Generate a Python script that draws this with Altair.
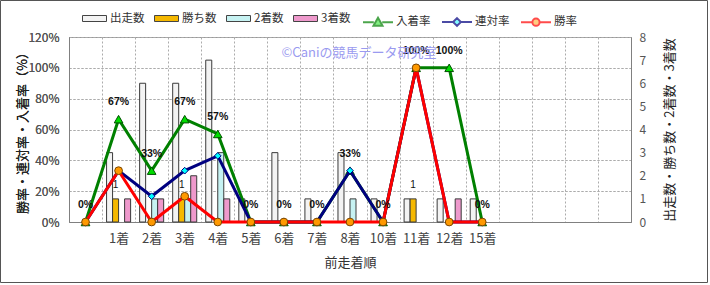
import json
import altair as alt
import pandas as pd

# ---------------- data ----------------
categories = ["", "1着", "2着", "3着", "4着", "5着", "6着", "7着", "8着",
              "10着", "11着", "12着", "15着", "", "", "", ""]
runs    = [0, 3, 6, 6, 7, 1, 3, 1, 3, 1, 1, 1, 1]      # 出走数
wins    = [0, 1, 0, 1, 0, 0, 0, 0, 0, 0, 1, 0, 0]      # 勝ち数
seconds = [0, 0, 1, 1, 3, 0, 0, 0, 1, 0, 0, 0, 0]      # 2着数
thirds  = [0, 1, 1, 2, 1, 0, 0, 0, 0, 0, 0, 1, 0]      # 3着数
place_rate  = [0, 0.667, 0.333, 0.667, 0.571, 0, 0, 0, 0.333, 0, 1.0, 1.0, 0]  # 入着率
rentai_rate = [0, 0.333, 0.167, 0.333, 0.429, 0, 0, 0, 0.333, 0, 1.0, 0, 0]    # 連対率
win_rate    = [0, 0.333, 0, 0.167, 0, 0, 0, 0, 0, 0, 1.0, 0, 0]                # 勝率

bar_series = ["出走数", "勝ち数", "2着数", "3着数"]
bar_colors = ["#F3F3F3", "#F5B800", "#C6F2F2", "#EE99CC"]
line_series = ["入着率", "連対率", "勝率"]
line_colors = ["#008000", "#000080", "#FF0000"]
marker_fills = ["#00DD00", "#00FFFF", "#FF9900"]
marker_strokes = ["#005000", "#000080", "#7A4500"]
marker_shapes = ["triangle-up", "diamond", "circle"]
marker_sizes = [75, 45, 60]

FONT = "Noto Sans CJK JP"

# ---------------- tables ----------------
bar_rows = []
for s, vals in zip(bar_series, [runs, wins, seconds, thirds]):
    for i, v in enumerate(vals):
        if v > 0:
            bar_rows.append({"idx": i, "series": s, "value": v})
bar_df = pd.DataFrame(bar_rows)
win_df = bar_df[bar_df["series"] == "勝ち数"]

rate_data = {
    "入着率": place_rate,
    "連対率": rentai_rate,
    "勝率": win_rate,
}

GRID = "#ababab"

x_enc = alt.X(
    "idx:O",
    scale=alt.Scale(domain=list(range(len(categories))), paddingInner=0, paddingOuter=0),
    axis=alt.Axis(
        labelExpr=json.dumps(categories, ensure_ascii=False) + "[datum.value]",
        labelAngle=0, labelFontSize=13, labelColor="#444", labelFont=FONT,
        labelPadding=10, ticks=False, grid=True, gridDash=[2, 2], gridColor=GRID,
        tickBand="extent", domainColor="#808080",
        title="前走着順", titleFont=FONT, titleFontSize=13, titleFontWeight="normal",
        titleColor="#333", titleY=40, titleBaseline="middle",
    ),
)

xoff_enc = alt.XOffset(
    "series:N",
    scale=alt.Scale(domain=bar_series, paddingOuter=0.75, paddingInner=0),
)

count_scale = alt.Scale(domain=[0, 8], nice=False)
rate_scale = alt.Scale(domain=[0, 1.2], nice=False)

frame = alt.Chart(pd.DataFrame({"a": [0]})).mark_rect(
    fill="transparent", stroke="#555", strokeWidth=1, clip=False
).encode(
    x=alt.value(-68.5), x2=alt.value(638.5), y=alt.value(-36.5), y2=alt.value(245.5)
)

bars = alt.Chart(bar_df).mark_bar(stroke="#3a3a3a", strokeWidth=1).encode(
    x=x_enc,
    xOffset=xoff_enc,
    y=alt.Y("value:Q", scale=count_scale,
            axis=alt.Axis(orient="right", values=list(range(9)), grid=False, ticks=False,
                          labelPadding=8, labelFontSize=12, labelColor="#555", labelFont=FONT,
                          domainColor="#808080",
                          title="出走数・勝ち数・2着数・3着数", titleFont=FONT, titleFontSize=13,
                          titleFontWeight="normal", titleColor="#222", titleAngle=270,
                          titleX=38, titleY=92.5, titleAlign="center", titleBaseline="middle")),
    color=alt.Color("series:N", scale=alt.Scale(domain=bar_series, range=bar_colors),
                    legend=alt.Legend(orient="none", legendX=13, legendY=-31, direction="horizontal",
                                      title=None, symbolType="M-1,-0.25H1V0.25H-1Z", symbolSize=576,
                                      symbolStrokeColor="#444", symbolStrokeWidth=1,
                                      labelFont=FONT, labelFontSize=11.5, labelColor="#333",
                                      labelOffset=3, columnPadding=7, padding=0)),
)

win_labels = alt.Chart(win_df).mark_text(dy=-14, fontSize=10, font="Liberation Sans", color="#111").encode(
    x=x_enc,
    xOffset=xoff_enc,
    y=alt.Y("value:Q", scale=count_scale, axis=None),
    text=alt.Text("value:Q"),
)

layers = [frame, bars, win_labels]
for k, s in enumerate(line_series):
    df = pd.DataFrame({"idx": list(range(len(rate_data[s]))), "value": rate_data[s]})
    y_axis = None
    if k == 0:
        y_axis = alt.Axis(orient="left", values=[0, 0.2, 0.4, 0.6, 0.8, 1.0, 1.2], format=".0%",
                          grid=True, gridDash=[2, 2], gridColor=GRID, ticks=False,
                          labelPadding=10, labelFontSize=12, labelColor="#555", labelFont=FONT,
                          domainColor="#808080",
                          title="勝率・連対率・入着率（%）", titleFont=FONT, titleFontSize=13,
                          titleFontWeight="normal", titleColor="#222", titleAngle=270,
                          titleX=-47, titleY=92.5, titleAlign="center", titleBaseline="middle")
    base = alt.Chart(df).encode(x=x_enc, y=alt.Y("value:Q", scale=rate_scale, axis=y_axis))
    layers.append(base.mark_line(color=line_colors[k], strokeWidth=3))
    layers.append(base.mark_point(shape=marker_shapes[k], filled=True, fill=marker_fills[k],
                                  stroke=marker_strokes[k], strokeWidth=1, size=marker_sizes[k],
                                  opacity=1))

# data labels for 入着率
pl_df = pd.DataFrame({"idx": list(range(len(place_rate))), "value": place_rate})
place_labels = alt.Chart(pl_df).mark_text(dy=-17, fontSize=10.5, fontWeight="bold",
                                          font="Liberation Sans", color="#111").encode(
    x=x_enc,
    y=alt.Y("value:Q", scale=rate_scale, axis=None),
    text=alt.Text("value:Q", format=".0%"),
)
layers.append(place_labels)

# legend for the line series (legend only, no marks drawn)
tri = "M-1,0H-0.28M0.28,0H1M0,-0.3L0.3,0.22L-0.3,0.22Z"
dia = "M-1,0H-0.26M0.26,0H1M0,-0.26L0.26,0L0,0.26L-0.26,0Z"
cir = "M-1,0H-0.24M0.24,0H1M-0.24,0A0.24,0.24,0,1,0,0.24,0A0.24,0.24,0,1,0,-0.24,0Z"
line_legend = alt.Legend(orient="none", legendX=293, legendY=-31, direction="horizontal",
                         title=None, symbolSize=900, symbolStrokeWidth=2,
                         labelFont=FONT, labelFontSize=11.5, labelColor="#333",
                         labelOffset=2, columnPadding=7, padding=0)
legend_layer = alt.Chart(pd.DataFrame({"s": line_series})).transform_filter("false").mark_point(
    filled=True, strokeWidth=2
).encode(
    shape=alt.Shape("s:N", scale=alt.Scale(domain=line_series, range=[tri, dia, cir]), legend=line_legend),
    fill=alt.Fill("s:N", scale=alt.Scale(domain=line_series, range=marker_fills), legend=line_legend),
    stroke=alt.Stroke("s:N", scale=alt.Scale(domain=line_series, range=line_colors), legend=line_legend),
)
layers.append(legend_layer)

watermark = alt.Chart(pd.DataFrame({"t": ["©Caniの競馬データ研究室"]})).mark_text(
    font=FONT, fontSize=13, color="#9A9AF0", align="center", baseline="middle"
).encode(x=alt.value(290), y=alt.value(16), text="t:N")
layers.append(watermark)

chart = alt.layer(*layers).resolve_scale(y="independent").properties(
    width=562, height=185,
    autosize=alt.AutoSizeParams(type="none"),
    padding={"left": 69, "top": 37, "right": 79, "bottom": 63},
    background="white",
).configure_view(fill="#FAF0DB", stroke="#999")

chart.save("out.html", embed_options={"renderer": "svg", "actions": False})
